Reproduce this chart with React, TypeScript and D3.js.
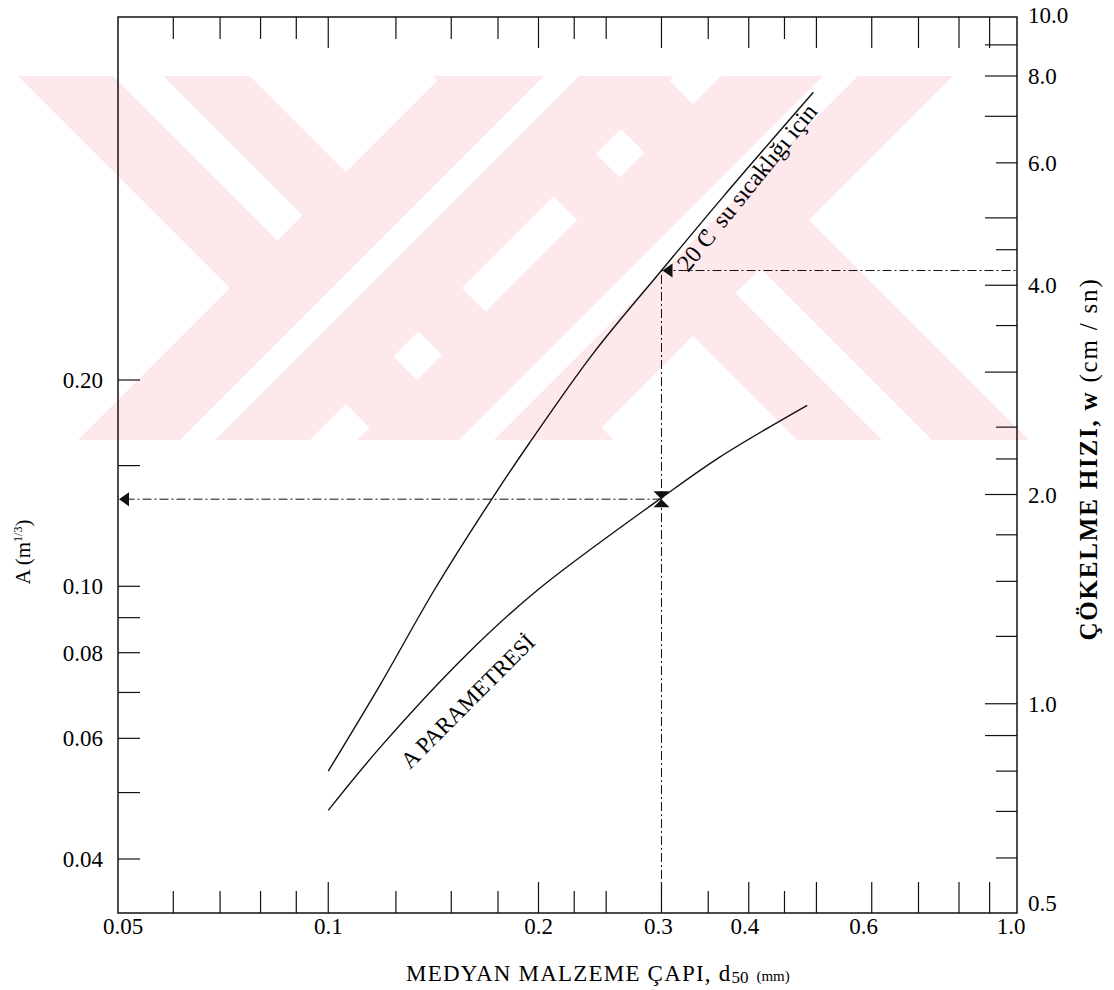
import { useEffect, useRef } from "react"
import * as d3 from "d3"

// settling velocity curve (20 C water), d50 in mm vs w in cm/s
const wDiameters = [0.1, 0.119, 0.142, 0.172, 0.194, 0.24, 0.3, 0.368, 0.495]
const wValues = [0.8, 1.07, 1.46, 1.98, 2.37, 3.2, 4.2, 5.37, 7.58]

// A parameter curve, d50 in mm vs A in m^1/3
const aDiameters = [0.1, 0.119, 0.158, 0.199, 0.3, 0.364, 0.485]
const aValues = [0.0471, 0.0584, 0.0796, 0.0986, 0.1346, 0.1545, 0.1837]

// read-off example
const readD = 0.3
const readA = 0.134
const readW = 4.2

// axis ticks
const xLabels = ["0.05", "0.1", "0.2", "0.3", "0.4", "0.6", "1.0"]
const xLongTicks = [0.1, 0.2, 0.3, 0.4, 0.5, 0.6, 0.7, 0.8, 0.9]
const xShortTicks = [0.06, 0.07, 0.08, 0.09, 0.125, 0.15, 0.175, 0.225, 0.25, 0.35, 0.45]
const aTicks = [0.04, 0.05, 0.06, 0.07, 0.08, 0.09, 0.1, 0.15, 0.2]
const aLabels = ["0.04", "0.06", "0.08", "0.10", "0.20"]
const wLongTicks = [0.9, 1, 2, 3, 4, 5, 7, 8, 9]
const wShortTicks = [0.6, 0.7, 0.8, 1.25, 1.5, 1.75, 2.25, 2.5, 3.5, 4.5, 6]
const wLabels = ["0.5", "1.0", "2.0", "4.0", "6.0", "8.0", "10.0"]

// scanned watermark: "\" strips given as x-y ranges (lying under),
// "/" bands as x+y ranges with a white inner stripe (lying over)
const markBack = [[-58, 37], [87, 174], [357, 442], [492, 589]]
const markFwd = [[518, 750], [797, 1029]]
const markFwdGap = [[620, 655], [899, 934]]

const FONT = "'Liberation Serif', 'DejaVu Serif', serif"

export default function App() {
  const svgRef = useRef<SVGSVGElement>(null)

  useEffect(() => {
    if (!svgRef.current) return
    const svg = d3.select(svgRef.current)
    svg.selectAll("*").remove()

    const left = 118
    const right = 1017
    const top = 17
    const bottom = 913

    // watermark
    const mTop = 76
    const mBot = 440
    const pink = "#fde8ec"
    const mark = svg.append("g")
    const back = (u0: number, u1: number, fill: string) =>
      mark
        .append("polygon")
        .attr("points", `${u0 + mTop},${mTop} ${u1 + mTop},${mTop} ${u1 + mBot},${mBot} ${u0 + mBot},${mBot}`)
        .attr("fill", fill)
    const fwd = (v0: number, v1: number, fill: string) =>
      mark
        .append("polygon")
        .attr("points", `${v0 - mTop},${mTop} ${v1 - mTop},${mTop} ${v1 - mBot},${mBot} ${v0 - mBot},${mBot}`)
        .attr("fill", fill)
    markBack.forEach(([u0, u1]) => back(u0, u1, pink))
    markFwd.forEach(([v0, v1]) => fwd(v0, v1, pink))
    markFwdGap.forEach(([v0, v1]) => fwd(v0, v1, "#fff"))

    // the scanned scales are slightly squeezed near the far ends
    const x = d3.scaleLog().domain([0.05, 0.8, 1.0]).range([left, 959, right])
    const yA = d3.scaleLog().domain([0.04, 0.2]).range([859, 380])
    const yW = d3.scaleLog().domain([0.5, 8, 10]).range([bottom, 76, top])

    // frame
    svg
      .append("rect")
      .attr("x", left)
      .attr("y", top)
      .attr("width", right - left)
      .attr("height", bottom - top)
      .attr("fill", "none")
      .attr("stroke", "#111")
      .attr("stroke-width", 1.5)

    // bottom and top ticks
    const xTick = (vals: number[], len: number) => {
      vals.forEach((v) => {
        svg
          .append("line")
          .attr("x1", x(v))
          .attr("x2", x(v))
          .attr("y1", bottom)
          .attr("y2", bottom - len)
          .attr("stroke", "#111")
          .attr("stroke-width", 1.2)
        svg
          .append("line")
          .attr("x1", x(v))
          .attr("x2", x(v))
          .attr("y1", top)
          .attr("y2", top + len)
          .attr("stroke", "#111")
          .attr("stroke-width", 1.2)
      })
    }
    xTick(xLongTicks, 31)
    xTick(xShortTicks, 22)

    const xShift: Record<string, number> = { "0.05": 5, "1.0": -6, "0.6": -8, "0.3": -3, "0.4": -4 }
    svg
      .append("g")
      .selectAll("text")
      .data(xLabels)
      .enter()
      .append("text")
      .attr("x", (d) => x(+d) + (xShift[d] || 0))
      .attr("y", 934)
      .attr("text-anchor", "middle")
      .style("font-family", FONT)
      .style("font-size", "23px")
      .text((d) => d)

    // left axis (A)
    aTicks.forEach((v) => {
      svg
        .append("line")
        .attr("x1", left)
        .attr("x2", left + 22)
        .attr("y1", yA(v))
        .attr("y2", yA(v))
        .attr("stroke", "#111")
        .attr("stroke-width", 1.2)
    })
    svg
      .append("g")
      .selectAll("text")
      .data(aLabels)
      .enter()
      .append("text")
      .attr("x", 103)
      .attr("y", (d) => yA(+d))
      .attr("dy", "0.35em")
      .attr("text-anchor", "end")
      .style("font-family", FONT)
      .style("font-size", "23px")
      .text((d) => d)

    // right axis (w)
    const wTick = (vals: number[], len: number) => {
      vals.forEach((v) => {
        svg
          .append("line")
          .attr("x1", right)
          .attr("x2", right - len)
          .attr("y1", yW(v))
          .attr("y2", yW(v))
          .attr("stroke", "#111")
          .attr("stroke-width", 1.2)
      })
    }
    wTick(wLongTicks, 32)
    wTick(wShortTicks, 21)
    svg
      .append("g")
      .selectAll("text")
      .data(wLabels)
      .enter()
      .append("text")
      .attr("x", 1028)
      .attr("y", (d) => yW(+d) + (d === "0.5" ? -10 : d === "10.0" ? -2 : 0))
      .attr("dy", "0.35em")
      .style("font-family", FONT)
      .style("font-size", "23px")
      .text((d) => d)

    // axis titles
    const xTitle = svg
      .append("text")
      .attr("x", 406)
      .attr("y", 981)
      .style("font-family", FONT)
      .style("font-size", "23px")
      .style("letter-spacing", "1.2px")
    xTitle.append("tspan").text("MEDYAN MALZEME ÇAPI, d")
    xTitle.append("tspan").attr("dy", 2).style("font-size", "17px").style("letter-spacing", "0px").text("50")
    xTitle.append("tspan").attr("dy", -2).attr("dx", 8).style("font-size", "15px").style("letter-spacing", "0px").text("(mm)")

    const aTitle = svg
      .append("text")
      .attr("transform", "translate(30,552) rotate(-90)")
      .attr("text-anchor", "middle")
      .style("font-family", FONT)
      .style("font-size", "21px")
    aTitle.append("tspan").text("A (m")
    aTitle.append("tspan").attr("dy", -8).style("font-size", "12px").text("1/3")
    aTitle.append("tspan").attr("dy", 8).text(")")

    const wTitle = svg
      .append("text")
      .attr("transform", "translate(1097,459) rotate(-90)")
      .attr("text-anchor", "middle")
      .style("font-family", FONT)
      .style("font-size", "25px")
      .style("letter-spacing", "1.8px")
    wTitle.append("tspan").style("font-weight", "bold").text("ÇÖKELME HIZI, w")
    wTitle.append("tspan").text(" (cm  /  sn)")

    // curves
    const line = d3
      .line<[number, number]>()
      .x((d) => d[0])
      .y((d) => d[1])
      .curve(d3.curveCatmullRom.alpha(0.5))

    const wPts: [number, number][] = wDiameters.map((d, i) => [x(d), yW(wValues[i])])
    const aPts: [number, number][] = aDiameters.map((d, i) => [x(d), yA(aValues[i])])

    svg
      .append("path")
      .attr("d", line(wPts))
      .attr("fill", "none")
      .attr("stroke", "#111")
      .attr("stroke-width", 1.4)
    svg
      .append("path")
      .attr("d", line(aPts))
      .attr("fill", "none")
      .attr("stroke", "#111")
      .attr("stroke-width", 1.4)

    // read-off guides
    const cx = x(readD)
    const ay = yA(readA)
    const wy = yW(readW)
    const dash = "9,3,2,3"
    svg
      .append("line")
      .attr("x1", cx)
      .attr("x2", cx)
      .attr("y1", bottom)
      .attr("y2", wy)
      .attr("stroke", "#111")
      .attr("stroke-width", 1)
      .attr("stroke-dasharray", dash)
    svg
      .append("line")
      .attr("x1", cx)
      .attr("x2", left)
      .attr("y1", ay)
      .attr("y2", ay)
      .attr("stroke", "#111")
      .attr("stroke-width", 1)
      .attr("stroke-dasharray", dash)
    svg
      .append("line")
      .attr("x1", cx)
      .attr("x2", right)
      .attr("y1", wy)
      .attr("y2", wy)
      .attr("stroke", "#111")
      .attr("stroke-width", 1)
      .attr("stroke-dasharray", dash)

    // arrow heads
    svg
      .append("path")
      .attr("d", `M${left + 1},${ay} L${left + 11},${ay - 7} L${left + 11},${ay + 7} Z`)
      .attr("fill", "#111")
    svg
      .append("path")
      .attr("d", `M${cx + 1},${wy} L${cx + 11},${wy - 7} L${cx + 11},${wy + 7} Z`)
      .attr("fill", "#111")
    svg
      .append("path")
      .attr(
        "d",
        `M${cx - 8},${ay - 8} L${cx + 8},${ay - 8} L${cx},${ay} Z M${cx - 8},${ay + 8} L${cx + 8},${ay + 8} L${cx},${ay} Z`
      )
      .attr("fill", "#111")

    // curve labels
    const wLab = svg
      .append("text")
      .attr("transform", "translate(688,273) rotate(-51)")
      .style("font-family", FONT)
      .style("font-size", "24px")
    wLab.append("tspan").text("20 C")
    wLab.append("tspan").attr("dy", -10).attr("dx", -7).style("font-size", "13px").text("o")
    wLab.append("tspan").attr("dy", 10).attr("dx", 5).text(" su sıcaklığı için")

    svg
      .append("text")
      .attr("transform", "translate(410,770) rotate(-45)")
      .style("font-family", FONT)
      .style("font-size", "23px")
      .text("A PARAMETRESİ")
  }, [])

  return (
    <div style={{ position: "absolute", left: 0, top: 0, width: 1114, height: 990, background: "#fff" }}>
      <svg ref={svgRef} width={1114} height={990}></svg>
    </div>
  )
}
